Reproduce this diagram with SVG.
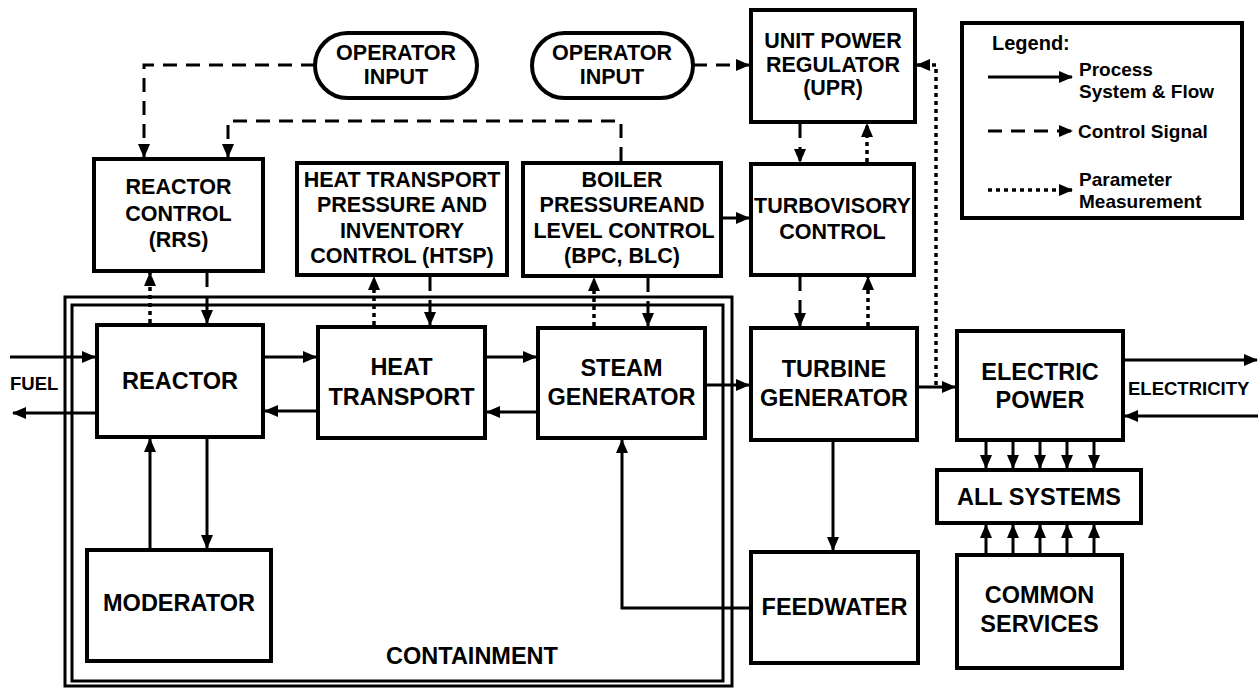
<svg xmlns="http://www.w3.org/2000/svg" width="1258" height="689" viewBox="0 0 1258 689">
<style>
  .box { fill: #fff; stroke: #000; stroke-width: 4; }
  .thin { fill: none; stroke: #000; stroke-width: 3; }
  text { font-family: "Liberation Sans", Arial, sans-serif; font-weight: bold; fill: #000; }
  .lbl { font-size: 23.5px; text-anchor: middle; }
  .clbl { font-size: 21.5px; text-anchor: middle; }
  .sm { font-size: 18.5px; }
  .leg { font-size: 19px; }
  .solid { fill: none; stroke: #000; stroke-width: 3; }
  .ctrl { fill: none; stroke: #000; stroke-width: 3; stroke-dasharray: 14 9; }
  .par { fill: none; stroke: #000; stroke-width: 3.5; stroke-dasharray: 4 4; }
</style>
<defs>
  <marker id="ah" viewBox="0 0 14 14" markerUnits="userSpaceOnUse" markerWidth="14" markerHeight="14" refX="13" refY="7" orient="auto">
    <path d="M0,1 L14,7 L0,13 Z" fill="#000" stroke="none"/>
  </marker>
</defs>
<rect width="1258" height="689" fill="#fff"/>

<g id="containment">
  <rect x="65" y="297" width="667" height="389" class="thin"/>
  <rect x="72" y="305" width="651" height="376" class="thin"/>
  <text x="472" y="664" class="lbl">CONTAINMENT</text>
</g>

<g id="operator-input-1">
  <rect x="315" y="33" width="162" height="65" rx="32.5" class="box"/>
  <text x="396" y="60" class="clbl">OPERATOR</text>
  <text x="396" y="84" class="clbl">INPUT</text>
</g>
<g id="operator-input-2">
  <rect x="532" y="33" width="161" height="65" rx="32.5" class="box"/>
  <text x="612" y="60" class="clbl">OPERATOR</text>
  <text x="612" y="84" class="clbl">INPUT</text>
</g>
<g id="upr">
  <rect x="751" y="10" width="164" height="112" class="box"/>
  <text x="833" y="48" class="clbl">UNIT POWER</text>
  <text x="833" y="72" class="clbl">REGULATOR</text>
  <text x="833" y="95" class="clbl">(UPR)</text>
</g>
<g id="legend">
  <rect x="962" y="23" width="280" height="195" class="box"/>
  <text x="992" y="50" class="leg" style="font-size:20px">Legend:</text>
  <line x1="988" y1="77" x2="1072" y2="77" class="solid" marker-end="url(#ah)"/>
  <text x="1079" y="76" class="leg">Process</text>
  <text x="1079" y="98" class="leg">System &amp; Flow</text>
  <line x1="988" y1="131" x2="1072" y2="131" class="ctrl" marker-end="url(#ah)"/>
  <text x="1078" y="138" class="leg">Control Signal</text>
  <line x1="988" y1="190" x2="1072" y2="190" class="par" marker-end="url(#ah)"/>
  <text x="1079" y="186" class="leg">Parameter</text>
  <text x="1079" y="208" class="leg">Measurement</text>
</g>
<g id="reactor-control">
  <rect x="94" y="159" width="169" height="112" class="box"/>
  <text x="178.5" y="194" class="clbl">REACTOR</text>
  <text x="178.5" y="221" class="clbl">CONTROL</text>
  <text x="178.5" y="247" class="clbl">(RRS)</text>
</g>
<g id="htsp">
  <rect x="297" y="163" width="210" height="112" class="box"/>
  <text x="402" y="187" class="clbl">HEAT TRANSPORT</text>
  <text x="402" y="212" class="clbl">PRESSURE AND</text>
  <text x="402" y="238" class="clbl">INVENTORY</text>
  <text x="402" y="263" class="clbl">CONTROL (HTSP)</text>
</g>
<g id="bpc">
  <rect x="523" y="163" width="198" height="113" class="box"/>
  <text x="622" y="187" class="clbl">BOILER</text>
  <text x="622" y="212" class="clbl">PRESSUREAND</text>
  <text x="624" y="238" class="clbl">LEVEL CONTROL</text>
  <text x="622" y="263" class="clbl">(BPC, BLC)</text>
</g>
<g id="turbovisory">
  <rect x="751" y="164" width="163" height="111" class="box"/>
  <text x="832.5" y="213" class="clbl">TURBOVISORY</text>
  <text x="832.5" y="239" class="clbl">CONTROL</text>
</g>
<g id="reactor">
  <rect x="97" y="325" width="166" height="112" class="box"/>
  <text x="180" y="389" class="lbl">REACTOR</text>
</g>
<g id="heat-transport">
  <rect x="318" y="327" width="167" height="111" class="box"/>
  <text x="401.5" y="375" class="lbl">HEAT</text>
  <text x="401.5" y="405" class="lbl">TRANSPORT</text>
</g>
<g id="steam-generator">
  <rect x="538" y="328" width="167" height="110" class="box"/>
  <text x="621.5" y="376" class="lbl">STEAM</text>
  <text x="621.5" y="405" class="lbl">GENERATOR</text>
</g>
<g id="turbine-generator">
  <rect x="751" y="328" width="166" height="112" class="box"/>
  <text x="834" y="377" class="lbl">TURBINE</text>
  <text x="834" y="406" class="lbl">GENERATOR</text>
</g>
<g id="electric-power">
  <rect x="957" y="331" width="166" height="109" class="box"/>
  <text x="1040" y="380" class="lbl">ELECTRIC</text>
  <text x="1040" y="408" class="lbl">POWER</text>
</g>
<g id="all-systems">
  <rect x="937" y="470" width="204" height="53" class="box"/>
  <text x="1039" y="505" class="lbl">ALL SYSTEMS</text>
</g>
<g id="common-services">
  <rect x="957" y="555" width="165" height="113" class="box"/>
  <text x="1039.5" y="603" class="lbl">COMMON</text>
  <text x="1039.5" y="632" class="lbl">SERVICES</text>
</g>
<g id="moderator">
  <rect x="87" y="550" width="184" height="111" class="box"/>
  <text x="179" y="611" class="lbl">MODERATOR</text>
</g>
<g id="feedwater">
  <rect x="751" y="552" width="167" height="111" class="box"/>
  <text x="834.5" y="615" class="lbl">FEEDWATER</text>
</g>

<g id="external-labels">
  <text x="10" y="390" class="sm">FUEL</text>
  <text x="1128" y="395" class="sm">ELECTRICITY</text>
</g>

<g id="connectors">
  <path d="M315,65 H144 V157" class="ctrl" marker-end="url(#ah)"/>
  <path d="M621,161 V121 H228 V157" class="ctrl" marker-end="url(#ah)"/>
  <path d="M693,65 H749" class="ctrl" marker-end="url(#ah)"/>
  <path d="M800,124 V162" class="ctrl" marker-end="url(#ah)"/>
  <path d="M723,218 H749" class="ctrl" marker-end="url(#ah)"/>
  <path d="M800,277 V326" class="ctrl" marker-end="url(#ah)"/>
  <path d="M207,273 V323" class="ctrl" marker-end="url(#ah)"/>
  <path d="M430,277 V325" class="ctrl" marker-end="url(#ah)"/>
  <path d="M648,278 V326" class="ctrl" marker-end="url(#ah)"/>
  <path d="M150,323 V273" class="par" marker-end="url(#ah)"/>
  <path d="M374,325 V277" class="par" marker-end="url(#ah)"/>
  <path d="M594,326 V278" class="par" marker-end="url(#ah)"/>
  <path d="M867,162 V124" class="par" marker-end="url(#ah)"/>
  <path d="M868,326 V277" class="par" marker-end="url(#ah)"/>
  <path d="M936,385 V65 H917" class="par" marker-end="url(#ah)"/>
  <path d="M10,357 H95" class="solid" marker-end="url(#ah)"/>
  <path d="M97,413 H13" class="solid" marker-end="url(#ah)"/>
  <path d="M265,357 H316" class="solid" marker-end="url(#ah)"/>
  <path d="M318,411 H265" class="solid" marker-end="url(#ah)"/>
  <path d="M487,357 H536" class="solid" marker-end="url(#ah)"/>
  <path d="M538,412 H487" class="solid" marker-end="url(#ah)"/>
  <path d="M707,385 H749" class="solid" marker-end="url(#ah)"/>
  <path d="M919,387 H955" class="solid" marker-end="url(#ah)"/>
  <path d="M1125,360 H1257" class="solid" marker-end="url(#ah)"/>
  <path d="M1258,416 H1125" class="solid" marker-end="url(#ah)"/>
  <path d="M207,439 V548" class="solid" marker-end="url(#ah)"/>
  <path d="M150,548 V439" class="solid" marker-end="url(#ah)"/>
  <path d="M833,442 V550" class="solid" marker-end="url(#ah)"/>
  <path d="M751,608 H622 V440" class="solid" marker-end="url(#ah)"/>
  <path d="M986,442 V468" class="solid" marker-end="url(#ah)"/>
  <path d="M1013,442 V468" class="solid" marker-end="url(#ah)"/>
  <path d="M1040,442 V468" class="solid" marker-end="url(#ah)"/>
  <path d="M1067,442 V468" class="solid" marker-end="url(#ah)"/>
  <path d="M1094,442 V468" class="solid" marker-end="url(#ah)"/>
  <path d="M986,553 V525" class="solid" marker-end="url(#ah)"/>
  <path d="M1013,553 V525" class="solid" marker-end="url(#ah)"/>
  <path d="M1040,553 V525" class="solid" marker-end="url(#ah)"/>
  <path d="M1067,553 V525" class="solid" marker-end="url(#ah)"/>
  <path d="M1094,553 V525" class="solid" marker-end="url(#ah)"/>
</g>
</svg>
